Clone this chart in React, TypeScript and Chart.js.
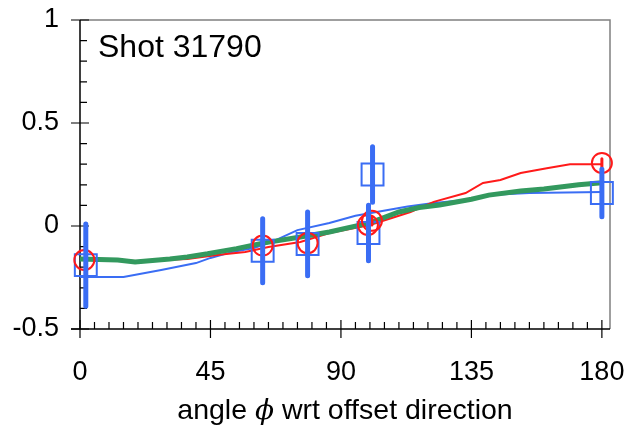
import React, { useEffect, useRef } from 'react';
import { Chart, registerables } from 'chart.js';

Chart.register(...registerables);

// ---- data ----
const greenX = [0, 13, 19, 25, 31, 37, 44, 54, 63, 76, 86, 100, 110, 117, 124, 135, 141, 152, 160, 172, 180];
const greenY = [-0.16, -0.165, -0.175, -0.168, -0.16, -0.15, -0.135, -0.11, -0.083, -0.053, -0.029, 0.015, 0.068, 0.09, 0.102, 0.13, 0.15, 0.17, 0.18, 0.2, 0.21];

const redLineX = [0, 20, 37, 48, 57, 65, 76, 86, 100, 114, 122, 133, 139, 145, 152, 161, 169, 180];
const redLineY = [-0.165, -0.17, -0.16, -0.14, -0.126, -0.102, -0.078, -0.034, 0.005, 0.068, 0.117, 0.16, 0.209, 0.223, 0.257, 0.28, 0.3, 0.3];

const blueLineX = [0, 15, 28, 40, 45, 52, 60, 66, 75, 86, 95, 113, 122, 133, 141, 155, 180];
const blueLineY = [-0.248, -0.248, -0.214, -0.18, -0.155, -0.128, -0.107, -0.078, -0.02, 0.015, 0.05, 0.095, 0.112, 0.126, 0.15, 0.16, 0.165];

const redPtX = [1.5, 63, 78.5, 99.3, 100.7, 180];
const redPtY = [-0.165, -0.095, -0.083, 0.005, 0.025, 0.306];
const redPtErr = [0, 0, 0, 0, 0.02, 0.02];

const bluePtX = [2, 63, 78.5, 99.5, 100.9, 180];
const bluePtY = [-0.19, -0.12, -0.087, -0.034, 0.25, 0.16];
const bluePtErr = [0.2, 0.155, 0.155, 0.135, 0.135, 0.115];

const xMajorTicks = [0, 45, 90, 135, 180];
const yMajorTicks = [-0.5, 0, 0.5, 1];

const TITLE_TEXT = 'Shot 31790';
const AXIS_PRE = 'angle ';
const AXIS_PHI = '\u03D5';
const AXIS_POST = ' wrt offset direction';

const BLUE = '#3a6df4';
const RED = '#ff1a1a';
const GREEN = '#33995e';
const FONT = "'Liberation Sans', Arial, sans-serif";

function pts(xs: number[], ys: number[]) {
  return xs.map((x, i) => ({ x, y: ys[i] }));
}

function errPts(xs: number[], ys: number[], es: number[]) {
  const out: any[] = [];
  xs.forEach((x, i) => {
    if (es[i] <= 0) return;
    out.push({ x, y: ys[i] - es[i] });
    out.push({ x, y: ys[i] + es[i] });
    out.push({ x, y: null });
  });
  return out;
}

const isMult = (v: number, m: number) => {
  const r = Math.round(v / m) * m;
  return Math.abs(v - r) < 1e-6;
};

const framePlugin = {
  id: 'frame',
  beforeDatasetsDraw(chart: any) {
    const { ctx, chartArea } = chart;
    const { left, right, top, bottom } = chartArea;
    const xs = chart.scales.x;
    const ys = chart.scales.y;
    ctx.save();
    ctx.strokeStyle = '#808080';
    ctx.lineWidth = 1.5;
    ctx.beginPath();
    ctx.moveTo(left, top);
    ctx.lineTo(right, top);
    ctx.lineTo(right, bottom);
    ctx.stroke();
    ctx.strokeStyle = '#000';
    ctx.lineWidth = 1.5;
    ctx.beginPath();
    ctx.moveTo(left, top);
    ctx.lineTo(left, bottom);
    ctx.moveTo(left - 9, bottom);
    ctx.lineTo(right, bottom);
    ctx.stroke();
    ctx.lineWidth = 1.2;
    ctx.beginPath();
    xs.ticks.forEach((t: any) => {
      const v = t.value;
      if (!isMult(v, 5)) return;
      const px = xs.getPixelForValue(v);
      if (isMult(v, 45)) {
        ctx.moveTo(px, bottom - 9);
        ctx.lineTo(px, bottom + 9);
      } else {
        ctx.moveTo(px, bottom - 7);
        ctx.lineTo(px, bottom);
      }
    });
    ys.ticks.forEach((t: any) => {
      const v = t.value;
      if (!isMult(v, 0.1)) return;
      const py = ys.getPixelForValue(v);
      if (isMult(v, 0.5)) {
        ctx.moveTo(left - 9, py);
        ctx.lineTo(left + 9, py);
      } else {
        ctx.moveTo(left, py);
        ctx.lineTo(left + 7, py);
      }
    });
    ctx.stroke();
    ctx.restore();
  },
  afterDraw(chart: any) {
    const { ctx, chartArea } = chart;
    ctx.save();
    ctx.fillStyle = '#000';
    ctx.textBaseline = 'alphabetic';
    ctx.textAlign = 'left';
    ctx.font = `32px ${FONT}`;
    ctx.fillText(TITLE_TEXT, chartArea.left + 18, chartArea.top + 37);

    const fNorm = `28.5px ${FONT}`;
    const fItal = `italic 28px 'DejaVu Serif', serif`;
    ctx.font = fNorm;
    const w1 = ctx.measureText(AXIS_PRE).width;
    const w3 = ctx.measureText(AXIS_POST).width;
    ctx.font = fItal;
    const w2 = ctx.measureText(AXIS_PHI).width;
    const total = w1 + w2 + w3;
    const cx = (chartArea.left + chartArea.right) / 2;
    let x = cx - total / 2;
    const by = 419;
    ctx.font = fNorm;
    ctx.fillText(AXIS_PRE, x, by);
    x += w1;
    ctx.font = fItal;
    ctx.fillText(AXIS_PHI, x, by);
    x += w2;
    ctx.font = fNorm;
    ctx.fillText(AXIS_POST, x, by);
    ctx.restore();
  },
};

export default function App() {
  const ref = useRef<HTMLCanvasElement | null>(null);

  useEffect(() => {
    if (!ref.current) return;
    const chart = new Chart(ref.current, {
      type: 'scatter',
      data: {
        datasets: [
          {
            label: 'blue err',
            data: errPts(bluePtX, bluePtY, bluePtErr),
            showLine: true,
            spanGaps: false,
            borderColor: BLUE,
            borderWidth: 5,
            borderCapStyle: 'round',
            pointRadius: 0,
            clip: false,
          } as any,
          {
            label: 'red err',
            data: errPts(redPtX, redPtY, redPtErr),
            showLine: true,
            spanGaps: false,
            borderColor: RED,
            borderWidth: 3,
            borderCapStyle: 'round',
            pointRadius: 0,
            clip: false,
          } as any,
          {
            label: 'red pts',
            data: pts(redPtX, redPtY),
            showLine: false,
            pointStyle: 'circle',
            pointRadius: 10,
            pointBorderWidth: 2,
            pointBorderColor: RED,
            pointBackgroundColor: 'rgba(0,0,0,0)',
            clip: false,
          } as any,
          {
            label: 'blue pts',
            data: pts(bluePtX, bluePtY),
            showLine: false,
            pointStyle: 'rect',
            pointRadius: 15.5,
            pointBorderWidth: 2,
            pointBorderColor: BLUE,
            pointBackgroundColor: 'rgba(0,0,0,0)',
            clip: false,
          } as any,
          {
            label: 'green',
            data: pts(greenX, greenY),
            showLine: true,
            borderColor: GREEN,
            borderWidth: 5,
            pointRadius: 0,
            clip: false,
          } as any,
          {
            label: 'red line',
            data: pts(redLineX, redLineY),
            showLine: true,
            borderColor: RED,
            borderWidth: 2,
            pointRadius: 0,
            clip: false,
          } as any,
          {
            label: 'blue line',
            data: pts(blueLineX, blueLineY),
            showLine: true,
            borderColor: BLUE,
            borderWidth: 2,
            pointRadius: 0,
            clip: false,
          } as any,
        ],
      },
      options: {
        animation: false,
        responsive: false,
        events: [],
        layout: { padding: { top: 20, right: 18, left: 0, bottom: 0 } },
        plugins: {
          legend: { display: false },
          tooltip: { enabled: false },
          title: { display: false },
        },
        scales: {
          x: {
            type: 'linear',
            min: 0,
            max: 182.8,
            border: { display: false },
            grid: { display: false, drawTicks: true, tickLength: 9 },
            ticks: {
              stepSize: 5,
              autoSkip: false,
              maxRotation: 0,
              includeBounds: false,
              padding: 18,
              color: '#000',
              font: { family: FONT, size: 27 },
              callback: (v: any) => {
                const n = Number(v);
                return xMajorTicks.some((m) => Math.abs(m - n) < 1e-6) ? String(Math.round(n)) : '';
              },
            },
            afterFit: (s: any) => {
              s.height = 98;
              s.paddingLeft = 0;
              s.paddingRight = 0;
              s.paddingTop = 0;
              s.paddingBottom = 0;
            },
          } as any,
          y: {
            type: 'linear',
            min: -0.5,
            max: 1,
            border: { display: false },
            grid: { display: false, drawTicks: true, tickLength: 9 },
            ticks: {
              stepSize: 0.1,
              autoSkip: false,
              padding: 12,
              color: '#000',
              font: { family: FONT, size: 27 },
              callback: (v: any) => {
                const n = Number(v);
                const m = yMajorTicks.find((t) => Math.abs(t - n) < 1e-6);
                return m === undefined ? '' : String(m);
              },
            },
            afterFit: (s: any) => {
              s.width = 80;
              s.paddingLeft = 0;
              s.paddingRight = 0;
              s.paddingTop = 0;
              s.paddingBottom = 0;
            },
          } as any,
        },
      },
      plugins: [framePlugin],
    });
    return () => chart.destroy();
  }, []);

  return (
    <div style={{ position: 'absolute', left: 0, top: 0, width: 628, height: 427, background: '#fff' }}>
      <canvas ref={ref} width={628} height={427} style={{ width: 628, height: 427 }} />
    </div>
  );
}
